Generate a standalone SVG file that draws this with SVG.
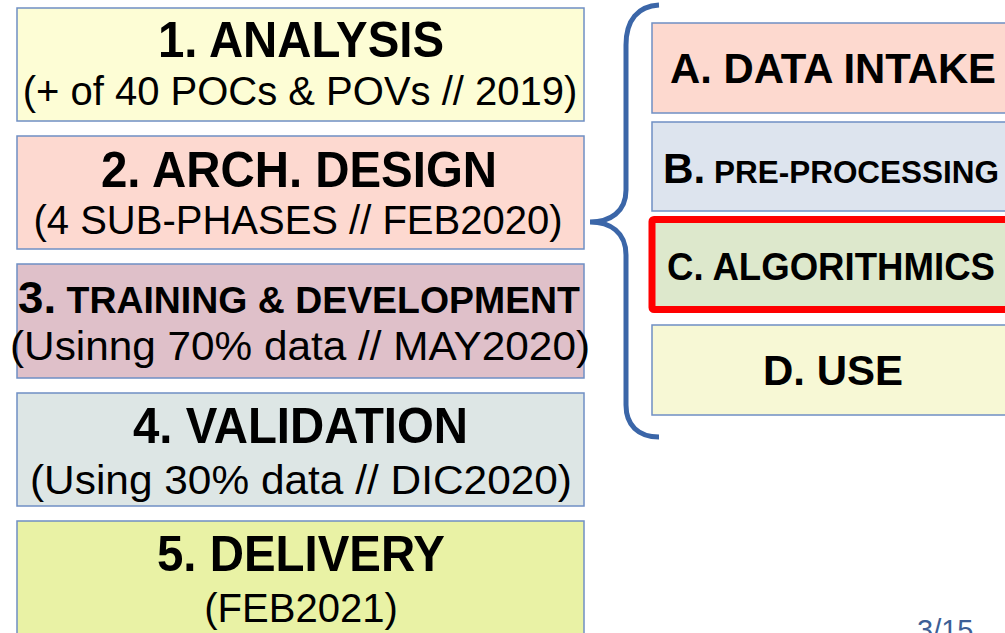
<svg xmlns="http://www.w3.org/2000/svg" width="1005" height="633" viewBox="0 0 1005 633">
<style>
.box{stroke:#6f8fc4;stroke-width:1.5}
.t{font-family:"Liberation Sans",Arial,sans-serif;fill:#000;text-anchor:middle}
.s{font-family:"Liberation Sans",Arial,sans-serif;fill:#000;text-anchor:start}
.b{font-weight:bold}
.big{font-size:50px}
.sub{font-size:40px}
.r{font-size:42px;font-weight:bold}
</style>
<rect width="1005" height="633" fill="#fff"/>
<g id="phase1">
<rect class="box" x="17" y="8" width="567" height="113" fill="#fdfdd5"/>
<text class="s b big" x="158" y="57" textLength="286" lengthAdjust="spacingAndGlyphs">1. ANALYSIS</text>
<text class="t sub" x="300" y="105">(+ of 40 POCs &amp; POVs // 2019)</text>
</g>
<g id="phase2">
<rect class="box" x="17" y="136" width="567" height="113" fill="#fdd9d0"/>
<text class="s b big" x="101" y="187" textLength="396" lengthAdjust="spacingAndGlyphs">2. ARCH. DESIGN</text>
<text class="t sub" x="298" y="234">(4 SUB-PHASES // FEB2020)</text>
</g>
<g id="phase3">
<rect class="box" x="17" y="264" width="567" height="114" fill="#dfc0c9"/>
<text class="s b" x="18" y="313" textLength="562" lengthAdjust="spacingAndGlyphs"><tspan font-size="44px">3.</tspan><tspan font-size="36px"> TRAINING &amp; DEVELOPMENT</tspan></text>
<text class="s sub" x="10" y="360" textLength="580" lengthAdjust="spacingAndGlyphs">(Usinng 70% data // MAY2020)</text>
</g>
<g id="phase4">
<rect class="box" x="17" y="393" width="567" height="113" fill="#dde6e5"/>
<text class="s b big" x="133" y="443" textLength="335" lengthAdjust="spacingAndGlyphs">4. VALIDATION</text>
<text class="s sub" x="30" y="494" textLength="542" lengthAdjust="spacingAndGlyphs">(Using 30% data // DIC2020)</text>
</g>
<g id="phase5">
<rect class="box" x="17" y="521" width="567" height="130" fill="#e9f2a5"/>
<text class="s b big" x="157" y="571" textLength="288" lengthAdjust="spacingAndGlyphs">5. DELIVERY</text>
<text class="t sub" x="301" y="622" font-size="41px">(FEB2021)</text>
</g>
<g id="subA">
<rect class="box" x="652" y="23" width="370" height="90" fill="#fdd9cf"/>
<text class="s r" x="670" y="83" textLength="326" lengthAdjust="spacingAndGlyphs">A. DATA INTAKE</text>
</g>
<g id="subB">
<rect class="box" x="652" y="122" width="370" height="89" fill="#dde4ee"/>
<text class="s b" x="663" y="183" textLength="336" lengthAdjust="spacingAndGlyphs"><tspan font-size="43px">B.</tspan><tspan font-size="32px"> PRE-PROCESSING</tspan></text>
</g>
<g id="subC">
<rect x="652" y="219.5" width="370" height="90" fill="#dde8cc" stroke="#ff0000" stroke-width="7" rx="2"/>
<text class="s b" font-size="38px" x="667" y="280" textLength="328" lengthAdjust="spacingAndGlyphs">C. ALGORITHMICS</text>
</g>
<g id="subD">
<rect class="box" x="652" y="325" width="370" height="90" fill="#f7f8d5"/>
<text class="s r" x="763" y="385" textLength="140" lengthAdjust="spacingAndGlyphs">D. USE</text>
</g>
<g id="connectors">
<path d="M659,5 C638,6 626,20 626,45 L626,190 C626,212 610,222 590,222 C610,222 626,232 626,255 L626,405 C626,425 638,437 659,437" fill="none" stroke="#3b66a8" stroke-width="5"/>
</g>
<text x="917" y="640" font-family="Liberation Sans,Arial,sans-serif" font-size="29px" fill="#3d5f96">3/15</text>
</svg>
